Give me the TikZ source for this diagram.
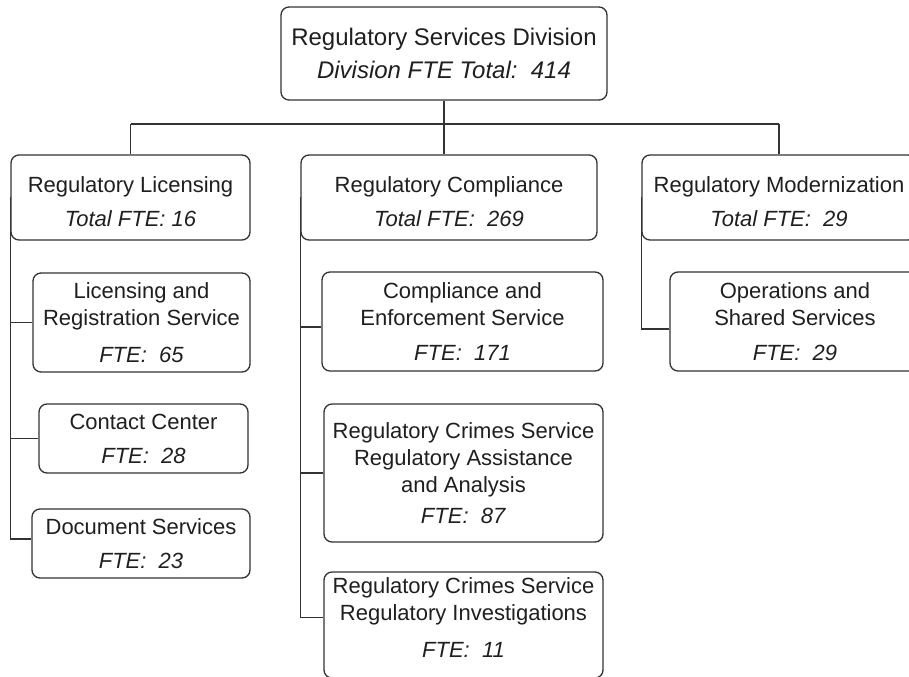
\documentclass[tikz,border=0pt]{standalone}
\usepackage{fontspec}
\usetikzlibrary{calc}
\setmainfont{Liberation Sans}
\def\px{0.75pt}
\tikzset{
  orgbox/.style={draw=black!80, line width=1pt, rounded corners=6pt, inner sep=0pt, align=center, text=black!88},
  bigtxt/.style={font=\fontsize{18}{24.75}\selectfont},
  midtxt/.style={font=\fontsize{16.5}{20.25}\selectfont},
  txt/.style={inner sep=0pt, align=center, text=black!88, font=\fontsize{16.5}{20.25}\selectfont},
  wire/.style={draw=black!80, line width=1pt}
}
\begin{document}
\begin{tikzpicture}[x=0.75pt, y=-0.75pt]
\useasboundingbox (0,0) rectangle (909,677);
% top
\node[orgbox, bigtxt, minimum width=326*\px, minimum height=93*\px] (top) at (444,53.5)
  {Regulatory Services Division\\\textit{Division FTE Total:~~414}};
% level 1
\node[orgbox, midtxt, minimum width=239*\px, minimum height=85*\px] (lic) at (130.5,197.5)
  {\rule{0pt}{18pt}Regulatory Licensing\\[5.25pt]\textit{Total FTE: 16}};
\node[orgbox, midtxt, minimum width=296*\px, minimum height=85*\px] (comp) at (449,197.5)
  {\rule{0pt}{18pt}Regulatory Compliance\\[5.25pt]\textit{Total FTE:~~269}};
\node[orgbox, midtxt, minimum width=274*\px, minimum height=85*\px] (mod) at (779,197.5)
  {\rule{0pt}{18pt}Regulatory Modernization\\[5.25pt]\textit{Total FTE:~~29}};
% left column
\node[orgbox, midtxt, minimum width=217*\px, minimum height=99*\px] (lr) at (141.5,322.5)
  {Licensing and\\Registration Service\\[7pt]\textit{FTE:~~65}};
\node[orgbox, midtxt, minimum width=209*\px, minimum height=69*\px] (cc) at (143.5,438.5)
  {Contact Center\\[5.25pt]\textit{FTE:~~28}};
\node[orgbox, midtxt, minimum width=218*\px, minimum height=69*\px] (ds) at (141,543.5)
  {Document Services\\[5.25pt]\textit{FTE:~~23}};
% middle column
\node[orgbox, midtxt, minimum width=281*\px, minimum height=99*\px] (ce) at (462.5,321.5)
  {Compliance and\\Enforcement Service\\[6pt]\textit{FTE:~~171}};
\node[orgbox, midtxt, minimum width=279*\px, minimum height=138*\px] (ra) at (463.5,473)
  {Regulatory Crimes Service\\Regulatory Assistance\\and Analysis\\[3.5pt]\textit{FTE:~~87}};
\node[orgbox, minimum width=279*\px, minimum height=106*\px] (ri) at (463.5,625) {};
\node[txt] (riT) at (463.5,617.5)
  {Regulatory Crimes Service\\Regulatory Investigations\\[7pt]\textit{FTE:~~11}};
% right column
\node[orgbox, midtxt, minimum width=250*\px, minimum height=99*\px] (ops) at (795,321.5)
  {Operations and\\Shared Services\\[6pt]\textit{FTE:~~29}};
% connectors
\coordinate (busL) at (130.5,124);
\coordinate (busR) at (779,124);
\coordinate (dsJ) at ($(ds.west)+(0,-4.5)$);
\coordinate (ceJ) at ($(ce.west)+(0,5.5)$);
\coordinate (opsJ) at ($(ops.west)+(0,7.5)$);
\draw[wire] (top.south) -- (top.south |- busL);
\draw[wire] (busL) -- (busR);
\draw[wire] (busL) -- (lic.north);
\draw[wire] (top.south |- busL) -- (top.south |- comp.north);
\draw[wire] (busR) -- (mod.north);
\draw[wire] (lic.west) -- (lic.west |- dsJ) -- (dsJ);
\draw[wire] (lic.west |- lr.west) -- (lr.west);
\draw[wire] (lic.west |- cc.west) -- (cc.west);
\draw[wire] (comp.west) -- (comp.west |- riT) -- (riT -| ri.west);
\draw[wire] (comp.west |- ceJ) -- (ceJ);
\draw[wire] (comp.west |- ra.west) -- (ra.west);
\draw[wire] (mod.west) -- (mod.west |- opsJ) -- (opsJ);
\end{tikzpicture}
\end{document}
